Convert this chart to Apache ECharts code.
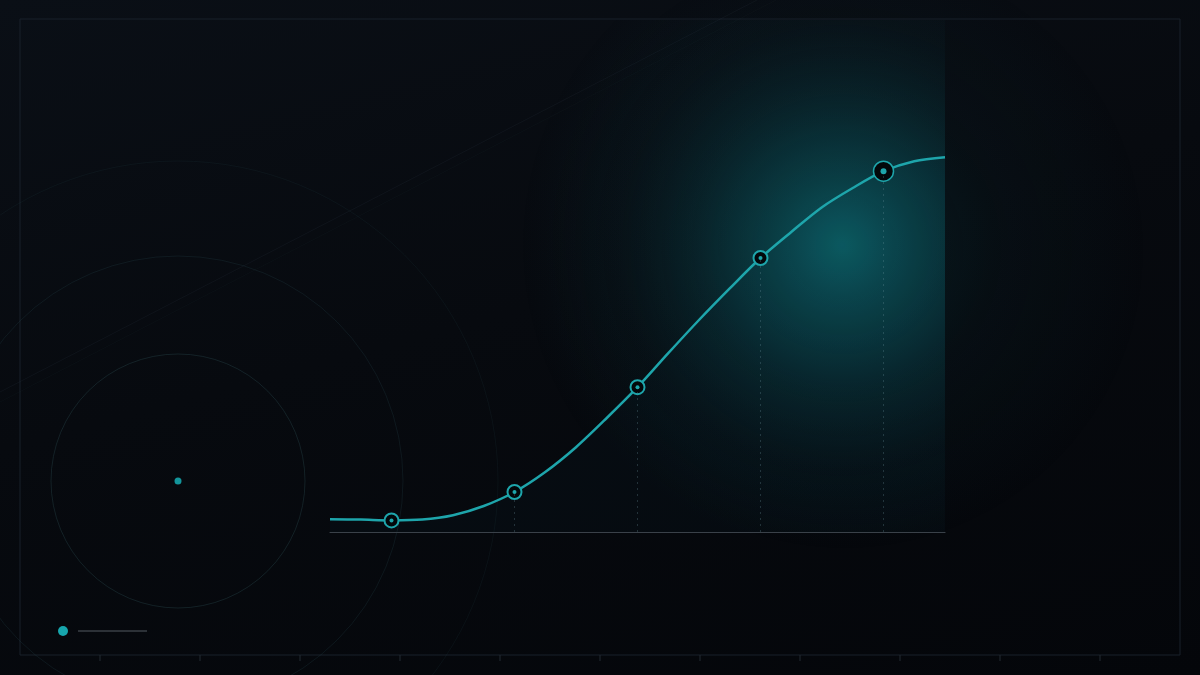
<!DOCTYPE html>
<html>
<head>
<meta charset="utf-8">
<style>
  html, body { margin: 0; padding: 0; }
  body { background: linear-gradient(165deg, #0a0f16 0%, #070a0f 45%, #04060a 100%); }
  #chart { width: 1200px; height: 675px; }
</style>
<script src="https://cdn.jsdelivr.net/npm/echarts@6.0.0/dist/echarts.min.js"></script>
</head>
<body>
<div id="chart"></div>
<script>
/** 曲线数据 */
const X_DATA = [0, 0.5, 1, 1.5, 2, 2.5, 3, 3.5, 4, 4.5, 5, 5.5, 6, 6.5, 7, 7.5, 8, 8.5, 9, 9.5, 10]
const Y_DATA = [3.2, 3.1, 2.9, 3.1, 4.2, 6.5, 10, 15, 21.2, 28.5, 36.2, 44.7, 53, 60.9, 68.5, 75, 81.2, 86, 90.2, 92.7, 93.7]
// 标记点 (索引)
const MARKER_IDX = [2, 6, 10, 14, 18]
// 带垂直虚线的点
const DROP_IDX = [6, 10, 14, 18]

const TEAL = "#1ea5ab"

function getEchart(el){
    return echarts.init(document.getElementById(el), null, {renderer: "canvas"})
}

/** 背景装饰 */
function getDecor(){
    let items = []
    // 外层光晕
    items.push({
        type: "circle", z: -20, silent: true,
        shape: {cx: 845, cy: 250, r: 300},
        style: {fill: {type: "radial", x: 845, y: 250, r: 300, global: true,
            colorStops: [{offset: 0, color: "rgba(12,70,78,0.4)"}, {offset: 0.5, color: "rgba(10,45,52,0.15)"}, {offset: 1, color: "rgba(10,45,52,0)"}]}}
    })
    // 绘图区内的光晕
    items.push({
        type: "rect", z: -19, silent: true,
        shape: {x: 330, y: 20, width: 615, height: 512},
        style: {fill: {type: "radial", x: 842, y: 245, r: 320, global: true,
            colorStops: [{offset: 0, color: "rgba(12,98,105,0.85)"}, {offset: 0.35, color: "rgba(10,68,76,0.55)"}, {offset: 0.7, color: "rgba(10,40,48,0.18)"}, {offset: 1, color: "rgba(10,40,48,0)"}]}}
    })
    // 边框
    items.push({
        type: "rect", z: -18, silent: true,
        shape: {x: 20, y: 19, width: 1160, height: 636},
        style: {fill: "none", stroke: "#19212a", lineWidth: 1}
    })
    // 底部刻度
    for(let x = 100; x <= 1100; x += 100){
        items.push({type: "line", z: -18, silent: true,
            shape: {x1: x, y1: 655, x2: x, y2: 661},
            style: {stroke: "#232a32", lineWidth: 1}})
    }
    // 斜线
    items.push({type: "line", z: -18, silent: true,
        shape: {x1: 0, y1: 392, x2: 757, y2: 0},
        style: {stroke: "rgba(60,80,90,0.13)", lineWidth: 1}})
    items.push({type: "line", z: -18, silent: true,
        shape: {x1: 0, y1: 402, x2: 776, y2: 0},
        style: {stroke: "rgba(60,80,90,0.07)", lineWidth: 1}})
    // 同心圆
    let rings = [[127, 0.40], [225, 0.26], [320, 0.16]]
    rings.forEach(r => {
        items.push({type: "circle", z: -18, silent: true,
            shape: {cx: 178, cy: 481, r: r[0]},
            style: {fill: "none", stroke: "rgba(40,70,76," + r[1] + ")", lineWidth: 1}})
    })
    items.push({type: "circle", z: -17, silent: true,
        shape: {cx: 178, cy: 481, r: 3.5},
        style: {fill: "#13959b"}})
    // 图例
    items.push({type: "circle", z: 5, silent: true,
        shape: {cx: 63, cy: 631, r: 5},
        style: {fill: "#17a6ad"}})
    items.push({type: "line", z: 5, silent: true,
        shape: {x1: 78, y1: 631, x2: 147, y2: 631},
        style: {stroke: "#3a3f46", lineWidth: 1.5}})
    return items
}

function initChart(){
    let chart = getEchart("chart")
    let lineData = X_DATA.map((x, i) => [x, Y_DATA[i]])
    let last = MARKER_IDX.length - 1
    let markers = MARKER_IDX.map((i, k) => ({
        value: [X_DATA[i], Y_DATA[i]],
        symbolSize: k === last ? 20 : 14,
        itemStyle: {borderWidth: k === last ? 1.5 : 2}
    }))
    let dots = MARKER_IDX.map((i, k) => ({
        value: [X_DATA[i], Y_DATA[i]],
        symbolSize: k === last ? 6 : 4
    }))
    let drops = DROP_IDX.map(i => [
        {coord: [X_DATA[i], 0]},
        {coord: [X_DATA[i], Y_DATA[i]]}
    ])

    let option = {
        backgroundColor: "transparent",
        animation: false,
        graphic: getDecor(),
        grid: {left: 330, right: 255, top: 132, bottom: 143},
        xAxis: {
            type: "value", min: 0, max: 10,
            axisLine: {show: true, lineStyle: {color: "#3a4149", width: 1.2}},
            axisTick: {show: false},
            axisLabel: {show: false},
            splitLine: {show: false}
        },
        yAxis: {
            type: "value", min: 0, max: 100,
            axisLine: {show: false},
            axisTick: {show: false},
            axisLabel: {show: false},
            splitLine: {show: false}
        },
        series: [
            {
                type: "line",
                data: lineData,
                smooth: 0.3,
                showSymbol: false,
                lineStyle: {color: TEAL, width: 2.5},
                areaStyle: {color: "rgba(40,120,130,0.05)"},
                markLine: {
                    silent: true,
                    symbol: "none",
                    label: {show: false},
                    lineStyle: {type: [2, 4], color: "rgba(110,150,160,0.28)", width: 1},
                    data: drops
                },
                z: 3
            },
            {
                type: "scatter",
                data: markers,
                symbol: "circle",
                itemStyle: {color: "#03080b", borderColor: TEAL, opacity: 1},
                z: 4
            },
            {
                type: "scatter",
                data: dots,
                symbol: "circle",
                itemStyle: {color: TEAL, opacity: 1},
                z: 5
            }
        ]
    }
    chart.setOption(option)
}

initChart()
</script>
</body>
</html>
